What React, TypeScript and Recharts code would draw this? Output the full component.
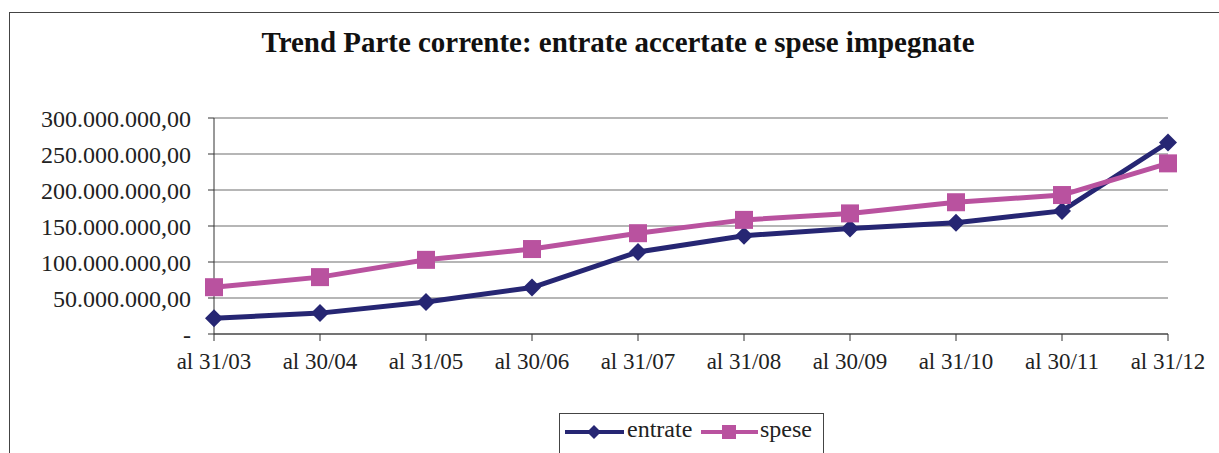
import { LineChart, Line, XAxis, YAxis, CartesianGrid } from 'recharts';

const categories = ['al 31/03', 'al 30/04', 'al 31/05', 'al 30/06', 'al 31/07', 'al 31/08', 'al 30/09', 'al 31/10', 'al 30/11', 'al 31/12'];
const entrate = [22000000, 29000000, 44500000, 64500000, 114000000, 136500000, 146500000, 154500000, 171000000, 266000000];
const spese = [65000000, 79000000, 103000000, 118000000, 140000000, 158500000, 167500000, 183000000, 193000000, 237000000];
const yTicks = [0, 50000000, 100000000, 150000000, 200000000, 250000000, 300000000];

const data = categories.map((label, i) => ({ label, entrate: entrate[i], spese: spese[i] }));

const NAVY = '#262673';
const PINK = '#B9529F';
const FONT = '"Liberation Serif", "Times New Roman", serif';

const formatMoney = (v: number) => {
  if (v === 0) return '-';
  const int = Math.round(v).toString().replace(/\B(?=(\d{3})+(?!\d))/g, '.');
  return int + ',00';
};

const Diamond = (props: any) => {
  const { cx, cy } = props;
  if (cx == null || cy == null) return null;
  const r = 9;
  return <polygon key={`d-${cx}`} points={`${cx},${cy - r} ${cx + r},${cy} ${cx},${cy + r} ${cx - r},${cy}`} fill={NAVY} />;
};

const Square = (props: any) => {
  const { cx, cy } = props;
  if (cx == null || cy == null) return null;
  const s = 9;
  return <rect key={`s-${cx}`} x={cx - s} y={cy - s} width={s * 2} height={s * 2} fill={PINK} />;
};

export default function App() {
  return (
    <div style={{ position: 'absolute', left: 0, top: 0, width: 1219, height: 453, background: '#fff', overflow: 'hidden' }}>
      <div style={{ position: 'absolute', left: 9, top: 12, right: 0, bottom: 0, borderLeft: '1.5px solid #444', borderTop: '1.5px solid #444' }} />
      <svg style={{ position: 'absolute', left: 0, top: 0 }} width={1219} height={70}>
        <text x={618} y={52} textAnchor="middle" fontFamily={FONT} fontWeight="bold" fontSize={30} fill="#111" textLength={713} lengthAdjust="spacingAndGlyphs">
          Trend Parte corrente: entrate accertate e spese impegnate
        </text>
      </svg>
      <div style={{ position: 'absolute', left: 0, top: 0 }}>
        <LineChart width={1219} height={453} data={data} margin={{ top: 118, right: 51, left: 0, bottom: 79 }}>
          <CartesianGrid vertical={false} stroke="#6e6e6e" strokeWidth={1.2} />
          <XAxis
            dataKey="label"
            stroke="#333"
            tickSize={7}
            tickMargin={12}
            height={40}
            tick={{ fontSize: 23, fontFamily: FONT, fill: '#222' }}
            interval={0}
          />
          <YAxis
            domain={[0, 300000000]}
            ticks={yTicks}
            tickFormatter={formatMoney}
            width={214}
            stroke="#333"
            tickSize={6}
            tickMargin={17}
            tick={{ fontSize: 24, fontFamily: FONT, fill: '#222' }}
          />
          <YAxis yAxisId="right" orientation="right" width={0} stroke="#a0a0a0" tick={false} />
          <Line type="linear" dataKey="entrate" stroke={NAVY} strokeWidth={5} dot={<Diamond />} isAnimationActive={false} />
          <Line type="linear" dataKey="spese" stroke={PINK} strokeWidth={5} dot={<Square />} isAnimationActive={false} />
        </LineChart>
      </div>
      <div style={{ position: 'absolute', left: 559, top: 413, width: 263, height: 50, border: '1.5px solid #444', background: '#fff', fontFamily: FONT, fontSize: 24, color: '#222' }}>
        <svg style={{ position: 'absolute', left: 0, top: 0 }} width={263} height={40}>
          <line x1={5} y1={18} x2={64} y2={18} stroke={NAVY} strokeWidth={4} />
          <polygon points="34,11 41,18 34,25 27,18" fill={NAVY} />
          <line x1={141} y1={18} x2={198} y2={18} stroke={PINK} strokeWidth={4} />
          <rect x={162} y={11} width={14} height={14} fill={PINK} />
        </svg>
        <span style={{ position: 'absolute', left: 67, top: 2 }}>entrate</span>
        <span style={{ position: 'absolute', left: 200, top: 2 }}>spese</span>
      </div>
    </div>
  );
}
